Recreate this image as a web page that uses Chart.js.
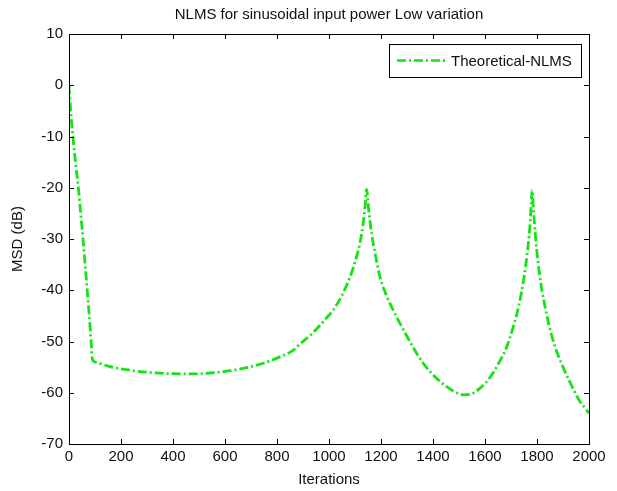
<!DOCTYPE html>
<html>
<head>
<meta charset="utf-8">
<script src="https://cdn.jsdelivr.net/npm/chart.js@4.4.0/dist/chart.umd.min.js"></script>
<style>
  html, body { margin: 0; padding: 0; background: #ffffff; }
  #wrap { width: 617px; height: 491px; }
</style>
</head>
<body>
<div id="wrap"><canvas id="c" width="617" height="491"></canvas></div>
<script>
// ---- Data ----
const iterations = [0, 5, 15, 25, 36, 45, 54, 62, 70, 78, 85, 90, 100, 150, 208, 300, 427, 500, 554, 620, 684, 750, 811, 860, 888, 940, 992, 1017, 1050, 1081, 1100, 1119, 1130, 1138, 1145, 1152, 1164, 1180, 1196, 1225, 1260, 1300, 1337, 1363, 1400, 1427, 1470, 1517, 1550, 1581, 1615, 1645, 1680, 1709, 1730, 1750, 1762, 1772, 1778, 1781, 1786, 1795, 1810, 1830, 1860, 1900, 1940, 1965, 1985, 2000];
const msdTheoreticalNLMS = [0, -4, -10, -15, -20, -25, -30, -35, -40, -45, -50, -53.5, -54, -54.8, -55.4, -56, -56.3, -56.3, -56.1, -55.7, -55.1, -54.2, -53, -51.8, -50.5, -48.2, -45.3, -43.8, -41, -37.4, -34.5, -30.8, -27.5, -24, -20.3, -24, -29, -33.5, -37.4, -41.5, -45.2, -49, -52.3, -54.3, -56.5, -57.8, -59.4, -60.4, -60.2, -59.1, -57.3, -54.9, -51.5, -47.1, -43, -37.5, -33, -28, -23, -20.5, -24, -30, -37, -43, -49.5, -55, -59.3, -61.7, -63, -64];
const xTicks = [0, 200, 400, 600, 800, 1000, 1200, 1400, 1600, 1800, 2000];
const yTicks = [-70, -60, -50, -40, -30, -20, -10, 0, 10];
const seriesName = 'Theoretical-NLMS';
const chartTitle = 'NLMS for sinusoidal input power Low variation';
const xLabel = 'Iterations';
const yLabel = 'MSD (dB)';

const FONT = "'Liberation Sans', Arial, sans-serif";
const TICK_SIZE = 15;
const TEXT_SIZE = 15;
const LINE_COLOR = 'rgb(20,228,20)';
const DASH = [9, 3, 2, 3];

const points = iterations.map((x, i) => ({ x: x, y: msdTheoreticalNLMS[i] }));

const framePlugin = {
  id: 'matlabFrame',
  afterDraw(chart) {
    const ctx = chart.ctx;
    const a = chart.chartArea;
    const xs = chart.scales.x, ys = chart.scales.y;
    ctx.save();
    // title
    ctx.fillStyle = '#111';
    ctx.font = TEXT_SIZE + 'px ' + FONT;
    ctx.textAlign = 'center';
    ctx.textBaseline = 'middle';
    ctx.fillText(chartTitle, (a.left + a.right) / 2, 15);

    ctx.strokeStyle = '#000';
    ctx.lineWidth = 1;
    ctx.strokeRect(Math.round(a.left) + 0.5, Math.round(a.top) + 0.5,
                   Math.round(a.right - a.left), Math.round(a.bottom - a.top));
    ctx.beginPath();
    const L = 5;
    xTicks.forEach(v => {
      const px = Math.round(xs.getPixelForValue(v)) + 0.5;
      ctx.moveTo(px, a.bottom); ctx.lineTo(px, a.bottom - L);
      ctx.moveTo(px, a.top); ctx.lineTo(px, a.top + L);
    });
    yTicks.forEach(v => {
      const py = Math.round(ys.getPixelForValue(v)) + 0.5;
      ctx.moveTo(a.left, py); ctx.lineTo(a.left + L, py);
      ctx.moveTo(a.right, py); ctx.lineTo(a.right - L, py);
    });
    ctx.stroke();

    // legend box
    const bx = 389, by = 44, bw = 192, bh = 33;
    ctx.fillStyle = '#fff';
    ctx.fillRect(bx, by, bw, bh);
    ctx.strokeRect(bx + 0.5, by + 0.5, bw, bh);
    ctx.beginPath();
    ctx.setLineDash(DASH);
    ctx.strokeStyle = LINE_COLOR;
    ctx.lineWidth = 2.5;
    ctx.moveTo(bx + 8, by + bh / 2);
    ctx.lineTo(bx + 57, by + bh / 2);
    ctx.stroke();
    ctx.setLineDash([]);
    ctx.fillStyle = '#111';
    ctx.font = TEXT_SIZE + 'px ' + FONT;
    ctx.textBaseline = 'middle';
    ctx.textAlign = 'left';
    ctx.fillText(seriesName, bx + 62, by + bh / 2 + 1);
    ctx.restore();
  }
};

new Chart(document.getElementById('c'), {
  type: 'line',
  data: {
    datasets: [{
      label: seriesName,
      data: points,
      borderColor: LINE_COLOR,
      borderWidth: 2.8,
      borderDash: DASH,
      pointRadius: 0,
      fill: false,
      cubicInterpolationMode: 'monotone'
    }]
  },
  options: {
    responsive: false,
    animation: false,
    devicePixelRatio: 1,
    layout: { padding: { left: 0, right: 28, top: 34, bottom: 0 } },
    plugins: {
      legend: { display: false },
      tooltip: { enabled: false },
      title: { display: false }
    },
    scales: {
      x: {
        type: 'linear',
        min: 0, max: 2000,
        afterBuildTicks: s => { s.ticks = xTicks.map(v => ({ value: v })); },
        grid: { display: false, drawTicks: false },
        border: { display: false },
        ticks: { color: '#111', font: { family: FONT, size: TICK_SIZE }, padding: 4, maxRotation: 0, autoSkip: false,
                 callback: v => String(v) },
        title: { display: true, text: xLabel, color: '#111', font: { family: FONT, size: TICK_SIZE }, padding: { top: 0, bottom: 2 } },
        afterFit: s => { s.height = 47; }
      },
      y: {
        type: 'linear',
        min: -70, max: 10,
        afterBuildTicks: s => { s.ticks = yTicks.map(v => ({ value: v })); },
        grid: { display: false, drawTicks: false },
        border: { display: false },
        ticks: { color: '#111', font: { family: FONT, size: TICK_SIZE }, padding: 6, autoSkip: false },
        title: { display: true, text: yLabel, color: '#111', font: { family: FONT, size: TICK_SIZE }, padding: { top: 9, bottom: 0 } },
        afterFit: s => { s.width = 69; }
      }
    }
  },
  plugins: [framePlugin]
});
</script>
</body>
</html>
